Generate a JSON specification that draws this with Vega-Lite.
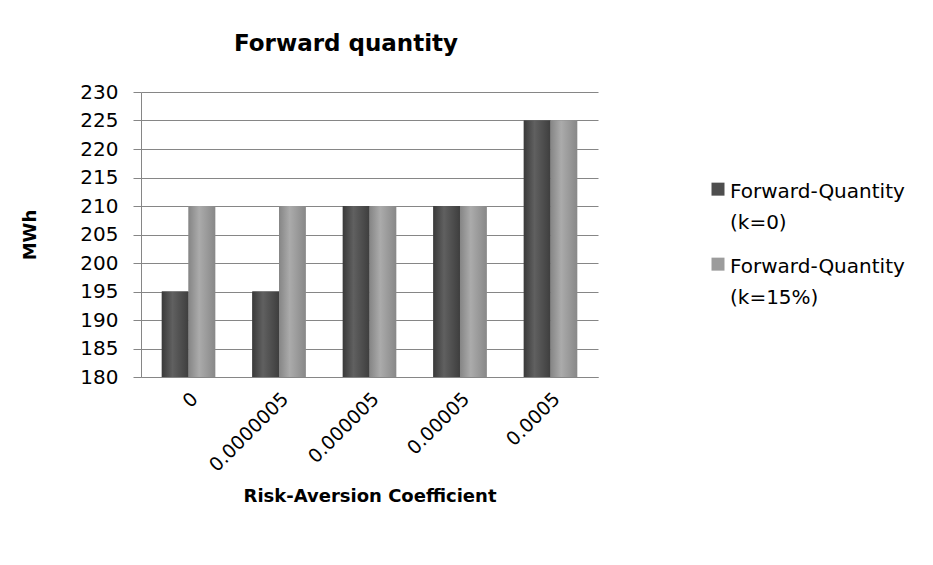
{
  "$schema": "https://vega.github.io/schema/vega-lite/v6.json",
  "width": 457,
  "height": 285,
  "autosize": {"type": "none"},
  "padding": {"left": 141, "top": 92, "right": 335, "bottom": 188},
  "background": "white",
  "title": {"text": "Forward quantity", "anchor": "start", "frame": "group", "dx": 93, "offset": 26, "font": "DejaVu Sans", "fontSize": 23, "fontWeight": "bold", "color": "#000000"},
  "data": {"values": [
    {"coef": "0", "series": "Forward-Quantity (k=0)", "mwh": 195},
    {"coef": "0", "series": "Forward-Quantity (k=15%)", "mwh": 210},
    {"coef": "0.0000005", "series": "Forward-Quantity (k=0)", "mwh": 195},
    {"coef": "0.0000005", "series": "Forward-Quantity (k=15%)", "mwh": 210},
    {"coef": "0.000005", "series": "Forward-Quantity (k=0)", "mwh": 210},
    {"coef": "0.000005", "series": "Forward-Quantity (k=15%)", "mwh": 210},
    {"coef": "0.00005", "series": "Forward-Quantity (k=0)", "mwh": 210},
    {"coef": "0.00005", "series": "Forward-Quantity (k=15%)", "mwh": 210},
    {"coef": "0.0005", "series": "Forward-Quantity (k=0)", "mwh": 225},
    {"coef": "0.0005", "series": "Forward-Quantity (k=15%)", "mwh": 225}
  ]},
  "encoding": {
    "x": {"field": "coef", "type": "nominal", "sort": null,
      "scale": {"paddingInner": 0.41, "paddingOuter": 0.23},
      "axis": {"title": "Risk-Aversion Coefficient", "labelAngle": -45, "ticks": false, "domain": true, "domainColor": "#868686", "labelFont": "DejaVu Sans", "labelFontSize": 19, "labelColor": "#000", "labelPadding": 12, "titleFont": "DejaVu Sans", "titleFontSize": 18, "titleFontWeight": "bold", "titleColor": "#000", "titlePadding": 12}},
    "xOffset": {"field": "series", "type": "nominal"},
    "y": {"field": "mwh", "type": "quantitative",
      "scale": {"domain": [180, 230], "zero": false, "nice": false},
      "axis": {"title": "MWh", "values": [180,185,190,195,200,205,210,215,220,225,230], "grid": true, "gridColor": "#868686", "domainColor": "#868686", "tickColor": "#868686", "tickSize": 8, "labelFont": "DejaVu Sans", "labelFontSize": 20, "labelColor": "#000", "labelPadding": 15, "titleFont": "DejaVu Sans", "titleFontSize": 18, "titleFontWeight": "bold", "titleColor": "#000", "titlePadding": 40}},
    "y2": {"datum": 180}
  },
  "layer": [
    {
      "mark": {"type": "bar"},
      "encoding": {
        "color": {"field": "series", "type": "nominal",
          "scale": {"range": ["#4e4e4e", "#9c9c9c"]},
          "legend": {"title": null, "orient": "none", "legendX": 567, "legendY": 80, "symbolType": "M-1,0.1H1V2.1H-1Z", "symbolSize": 169, "symbolStrokeWidth": 0, "labelFont": "DejaVu Sans", "labelFontSize": 20, "labelColor": "#000", "labelBaseline": "top", "labelOffset": 2, "rowPadding": 14, "labelLimit": 300,
            "labelExpr": "[slice(datum.label, 0, 16), slice(datum.label, 17)]"}}
      }
    },
    {
      "transform": [{"filter": "datum.series === 'Forward-Quantity (k=0)'"}],
      "mark": {"type": "bar", "fill": {"gradient": "linear", "x1": 0, "y1": 0, "x2": 1, "y2": 0, "stops": [{"offset": 0, "color": "#3a3a3a"}, {"offset": 0.4, "color": "#606060"}, {"offset": 1, "color": "#3e3e3e"}]}}
    },
    {
      "transform": [{"filter": "datum.series === 'Forward-Quantity (k=15%)'"}],
      "mark": {"type": "bar", "fill": {"gradient": "linear", "x1": 0, "y1": 0, "x2": 1, "y2": 0, "stops": [{"offset": 0, "color": "#858585"}, {"offset": 0.4, "color": "#ababab"}, {"offset": 1, "color": "#888888"}]}}
    }
  ],
  "config": {"view": {"stroke": null}, "axis": {"gridWidth": 1}, "style": {"guide-label": {"lineHeight": 31}}}
}
